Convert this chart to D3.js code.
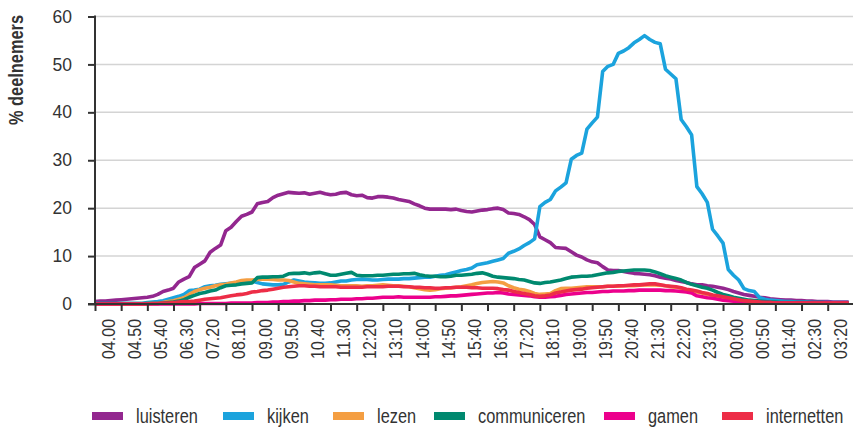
<!DOCTYPE html>
<html>
<head>
<meta charset="utf-8">
<script src="https://cdn.jsdelivr.net/npm/d3@7"></script>
<style>
  body { margin: 0; background: #fff; }
  svg { display: block; font-family: "Liberation Sans", Arial, sans-serif; }
</style>
</head>
<body>
<div id="chart"></div>
<script>
// % deelnemers per 10-minute slot, 04.00 .. 04.00 next day
const series = ["luisteren", "kijken", "lezen", "communiceren", "gamen", "internetten"]
const colors = ["#93278f", "#1ba3dd", "#f49e42", "#00896f", "#ec008c", "#ed2d47"]

const luisteren = [
  0.5,0.6,0.6,0.7,0.8,0.9,1.0,1.1,1.2,1.3,
  1.4,1.6,2.0,2.6,2.9,3.3,4.6,5.2,5.7,7.6,
  8.3,9.0,10.8,11.6,12.3,15.3,16.0,17.2,18.3,18.7,
  19.2,20.9,21.2,21.4,22.2,22.7,23.0,23.3,23.2,23.1,
  23.2,22.9,23.1,23.3,23.0,22.8,22.9,23.2,23.3,22.8,
  22.6,22.7,22.2,22.1,22.4,22.4,22.3,22.1,21.8,21.6,
  21.4,20.9,20.5,20.0,19.8,19.8,19.8,19.8,19.7,19.8,
  19.5,19.3,19.2,19.4,19.6,19.7,19.9,20.0,19.7,19.0,
  18.9,18.7,18.2,17.6,16.6,14.0,13.4,12.8,11.8,11.7,
  11.6,10.9,10.2,9.8,9.2,8.8,8.6,7.8,7.1,7.0,
  7.0,6.8,6.6,6.4,6.3,6.2,6.1,5.9,5.6,5.4,
  5.2,4.9,4.7,4.5,4.2,4.0,4.0,3.8,3.7,3.5,
  3.3,3.0,2.6,2.3,2.0,1.8,1.6,1.4,1.3,1.1,
  1.0,0.9,0.8,0.8,0.7,0.7,0.6,0.6,0.5,0.5,0.5,0.4,0.4,0.4,0.4
]
const kijken = [
  0.1,0.1,0.1,0.1,0.1,0.1,0.1,0.1,0.1,0.1,
  0.3,0.4,0.5,0.7,1.0,1.3,1.6,2.0,2.8,2.9,
  3.1,3.6,3.8,3.9,4.1,4.2,4.3,4.4,4.5,4.6,
  4.8,4.5,4.2,4.1,4.0,4.0,4.1,4.6,5.0,4.8,
  4.6,4.5,4.4,4.3,4.3,4.4,4.6,4.8,4.8,5.0,
  5.1,5.2,5.1,5.0,5.0,5.1,5.2,5.2,5.2,5.3,
  5.3,5.4,5.5,5.6,5.6,5.8,6.0,6.1,6.4,6.7,
  7.0,7.2,7.5,8.2,8.4,8.6,8.9,9.2,9.5,10.6,
  11.0,11.5,12.2,12.8,13.6,20.3,21.2,21.8,23.6,24.4,
  25.3,30.2,31.0,31.5,36.5,37.8,39.0,48.5,49.6,50.0,
  52.3,52.8,53.5,54.5,55.2,56.0,55.2,54.6,54.3,49.0,
  48.0,47.0,38.5,37.0,35.3,24.5,23.0,21.2,15.6,14.2,
  12.7,7.2,6.0,5.0,3.2,2.8,2.6,1.3,1.0,0.8,
  0.7,0.6,0.5,0.5,0.4,0.4,0.4,0.3,0.3,0.3,0.3,0.3,0.3,0.3,0.3
]
const lezen = [
  0.0,0.0,0.0,0.0,0.0,0.0,0.0,0.0,0.0,0.0,
  0.1,0.1,0.1,0.3,0.5,0.7,1.0,1.3,2.0,2.6,
  3.0,3.3,3.5,3.8,4.0,4.1,4.4,4.6,4.9,5.0,
  5.0,5.1,5.2,5.2,5.1,5.0,5.0,4.9,4.6,4.3,
  4.2,4.1,4.0,4.0,4.0,4.0,3.9,3.8,3.8,3.8,
  3.8,3.7,3.8,3.8,3.9,4.0,3.9,3.8,3.8,3.7,
  3.6,3.4,3.2,3.0,2.9,3.0,3.2,3.3,3.4,3.5,
  3.6,3.8,4.0,4.3,4.5,4.6,4.7,4.6,4.4,3.8,
  3.4,3.1,2.9,2.6,2.2,2.0,2.1,2.2,2.8,3.2,
  3.3,3.3,3.4,3.5,3.6,3.6,3.6,3.6,3.7,3.7,
  3.7,3.8,3.8,3.8,3.9,4.0,4.0,4.0,3.9,3.8,
  3.6,3.5,3.3,3.0,2.7,2.5,2.3,2.0,1.8,1.5,
  1.2,1.0,0.8,0.6,0.5,0.4,0.3,0.3,0.2,0.2,
  0.2,0.2,0.2,0.2,0.2,0.2,0.2,0.2,0.2,0.2,0.2,0.2,0.2,0.2,0.2
]
const communiceren = [
  0.1,0.1,0.1,0.1,0.1,0.1,0.1,0.1,0.1,0.1,
  0.1,0.1,0.1,0.2,0.3,0.4,0.6,0.9,1.4,1.8,
  2.2,2.4,2.7,2.9,3.4,3.8,3.9,4.0,4.2,4.3,
  4.4,5.5,5.6,5.6,5.7,5.7,5.8,6.3,6.4,6.4,
  6.5,6.3,6.5,6.6,6.3,6.0,6.0,6.2,6.4,6.6,
  6.0,5.9,5.9,5.9,6.0,6.0,6.1,6.2,6.2,6.3,
  6.3,6.4,6.1,5.9,5.8,5.8,5.7,5.7,5.8,6.0,
  6.0,6.1,6.2,6.4,6.5,6.2,5.8,5.6,5.5,5.4,
  5.3,5.1,5.0,4.7,4.4,4.3,4.5,4.6,4.8,5.0,
  5.3,5.6,5.7,5.8,5.8,5.9,6.1,6.3,6.5,6.6,
  6.8,6.9,7.0,7.1,7.1,7.1,7.0,6.7,6.3,5.9,
  5.6,5.3,5.0,4.5,4.1,3.8,3.5,3.3,2.9,2.4,
  2.0,1.7,1.4,1.2,1.0,0.8,0.7,0.6,0.5,0.4,
  0.4,0.3,0.3,0.3,0.3,0.3,0.3,0.3,0.3,0.3,0.2,0.2,0.2,0.2,0.2
]
const gamen = [
  0.0,0.0,0.0,0.0,0.0,0.0,0.0,0.0,0.0,0.0,
  0.0,0.0,0.0,0.0,0.0,0.0,0.0,0.0,0.0,0.0,
  0.1,0.1,0.1,0.1,0.1,0.1,0.2,0.2,0.2,0.2,
  0.2,0.3,0.3,0.3,0.4,0.4,0.5,0.5,0.6,0.6,
  0.7,0.7,0.8,0.8,0.8,0.9,0.9,1.0,1.0,1.0,
  1.1,1.1,1.2,1.2,1.3,1.4,1.4,1.4,1.5,1.4,
  1.4,1.4,1.4,1.4,1.4,1.5,1.5,1.6,1.7,1.7,
  1.8,1.9,2.0,2.1,2.2,2.3,2.3,2.4,2.3,2.1,
  2.0,1.9,1.8,1.7,1.5,1.4,1.4,1.5,1.6,1.8,
  2.0,2.1,2.2,2.3,2.4,2.4,2.5,2.6,2.6,2.7,
  2.7,2.7,2.8,2.8,2.9,2.9,2.9,2.9,2.9,2.8,
  2.8,2.7,2.6,2.5,2.3,1.7,1.5,1.3,1.2,1.0,
  0.8,0.7,0.6,0.5,0.5,0.4,0.4,0.3,0.3,0.3,
  0.2,0.2,0.2,0.2,0.2,0.2,0.2,0.2,0.2,0.2,0.2,0.2,0.2,0.2,0.2
]
const internetten = [
  0.0,0.0,0.0,0.0,0.0,0.0,0.0,0.0,0.0,0.0,
  0.0,0.1,0.1,0.2,0.2,0.3,0.4,0.5,0.5,0.6,
  0.8,1.0,1.1,1.2,1.3,1.5,1.7,1.9,2.0,2.2,
  2.5,2.6,2.8,2.9,3.1,3.3,3.5,3.6,3.7,3.8,
  3.8,3.7,3.7,3.6,3.6,3.6,3.6,3.5,3.5,3.5,
  3.5,3.5,3.6,3.6,3.6,3.6,3.7,3.7,3.7,3.6,
  3.6,3.5,3.5,3.4,3.4,3.3,3.3,3.4,3.4,3.5,
  3.5,3.5,3.4,3.4,3.3,3.3,3.3,3.2,3.0,2.9,
  2.6,2.4,2.2,2.0,1.7,1.6,1.7,1.9,2.3,2.5,
  2.7,2.9,3.0,3.1,3.3,3.4,3.5,3.6,3.7,3.7,
  3.8,3.8,3.9,4.0,4.0,4.1,4.2,4.2,4.0,3.8,
  3.7,3.6,3.4,3.1,2.9,2.7,2.4,2.2,1.9,1.7,
  1.5,1.3,1.1,0.9,0.7,0.6,0.5,0.4,0.3,0.3,
  0.2,0.2,0.2,0.2,0.2,0.2,0.2,0.2,0.2,0.2,0.2,0.2,0.2,0.2,0.2
]

// one label every 5 slots (50 minutes)
const tickLabels = ["04.00","04.50","05.40","06.30","07.20","08.10","09.00","09.50","10.40","11.30",
  "12:20","13:10","14:00","14:50","15:40","16:30","17:20","18:10","19:00","19:50",
  "20:40","21:30","22:20","23:10","00:00","00:50","01:40","02:30","03:20"]
const yTicks = [0, 10, 20, 30, 40, 50, 60]

const values = [luisteren, kijken, lezen, communiceren, gamen, internetten]

const W = 853, H = 431
const plotLeft = 95, plotTop = 16.5, plotBottom = 304, gridRight = 853
const narrow = "scale(0.84,1)"   // condensed look of the original font

let svg = d3.select("#chart").append("svg")
    .attr("width", W)
    .attr("height", H)

let xScale = d3.scaleLinear()
    .domain([0, 140])
    .range([plotLeft, 827.7])

let yScale = d3.scaleLinear()
    .domain([0, 60])
    .range([plotBottom, plotTop])

// gridlines
svg.append("g")
    .selectAll("line")
    .data(yTicks.filter(d => d > 0))
    .join("line")
    .attr("x1", plotLeft)
    .attr("x2", gridRight)
    .attr("y1", d => yScale(d))
    .attr("y2", d => yScale(d))
    .attr("stroke", "#d4d4d4")
    .attr("stroke-width", 1.5)

// lines
let line = d3.line()
    .x((d, i) => xScale(i))
    .y(d => yScale(d))

svg.append("g")
    .selectAll("path")
    .data(values)
    .join("path")
    .attr("d", d => line(d))
    .attr("fill", "none")
    .attr("stroke", (d, i) => colors[i])
    .attr("stroke-width", 3.6)
    .attr("stroke-linejoin", "round")

// y axis
let yAxis = d3.axisLeft(yScale)
    .tickValues(yTicks)
    .tickSize(7)
    .tickPadding(16)

let gy = svg.append("g")
    .attr("transform", `translate(${plotLeft},0)`)
    .call(yAxis)
gy.select(".domain").attr("stroke", "#333").attr("stroke-width", 2).attr("d", `M0,${plotTop - 1}V${plotBottom}`)
gy.selectAll(".tick line").attr("stroke", "#333").attr("stroke-width", 2)
gy.selectAll(".tick text")
    .attr("font-size", 17.5)
    .attr("fill", "#333")
    .style("font-family", "Liberation Sans, sans-serif")

// x axis
let xAxis = d3.axisBottom(xScale)
    .tickValues(tickLabels.map((d, i) => i * 5))
    .tickFormat((d, i) => tickLabels[i])
    .tickSize(7)

let gx = svg.append("g")
    .attr("transform", `translate(0,${plotBottom})`)
    .call(xAxis)
gx.select(".domain").attr("stroke", "#333").attr("stroke-width", 2).attr("d", `M${plotLeft - 7},0H${gridRight}`)
gx.selectAll(".tick line").attr("stroke", "#333").attr("stroke-width", 2)
gx.selectAll(".tick text")
    .attr("font-size", 19)
    .attr("fill", "#333")
    .attr("text-anchor", "end")
    .attr("dy", null)
    .attr("y", null)
    .attr("transform", `translate(19,15) rotate(-90) ${narrow}`)
    .style("font-family", "Liberation Sans, sans-serif")

// y axis title
svg.append("text")
    .attr("transform", `translate(23,70) rotate(-90) ${narrow}`)
    .attr("text-anchor", "middle")
    .attr("font-size", 19.5)
    .attr("font-weight", "bold")
    .attr("fill", "#333")
    .text("% deelnemers")

// legend
const legendX = [92, 223, 333, 434, 604, 722]
let legend = svg.append("g")
    .selectAll("g")
    .data(series)
    .join("g")
    .attr("transform", (d, i) => `translate(${legendX[i]},416)`)

legend.append("rect")
    .attr("x", 0)
    .attr("y", -4)
    .attr("width", 31)
    .attr("height", 8)
    .attr("fill", (d, i) => colors[i])

legend.append("text")
    .attr("transform", `translate(44,7) ${narrow}`)
    .attr("font-size", 19.5)
    .attr("fill", "#333")
    .text(d => d)
</script>
</body>
</html>
